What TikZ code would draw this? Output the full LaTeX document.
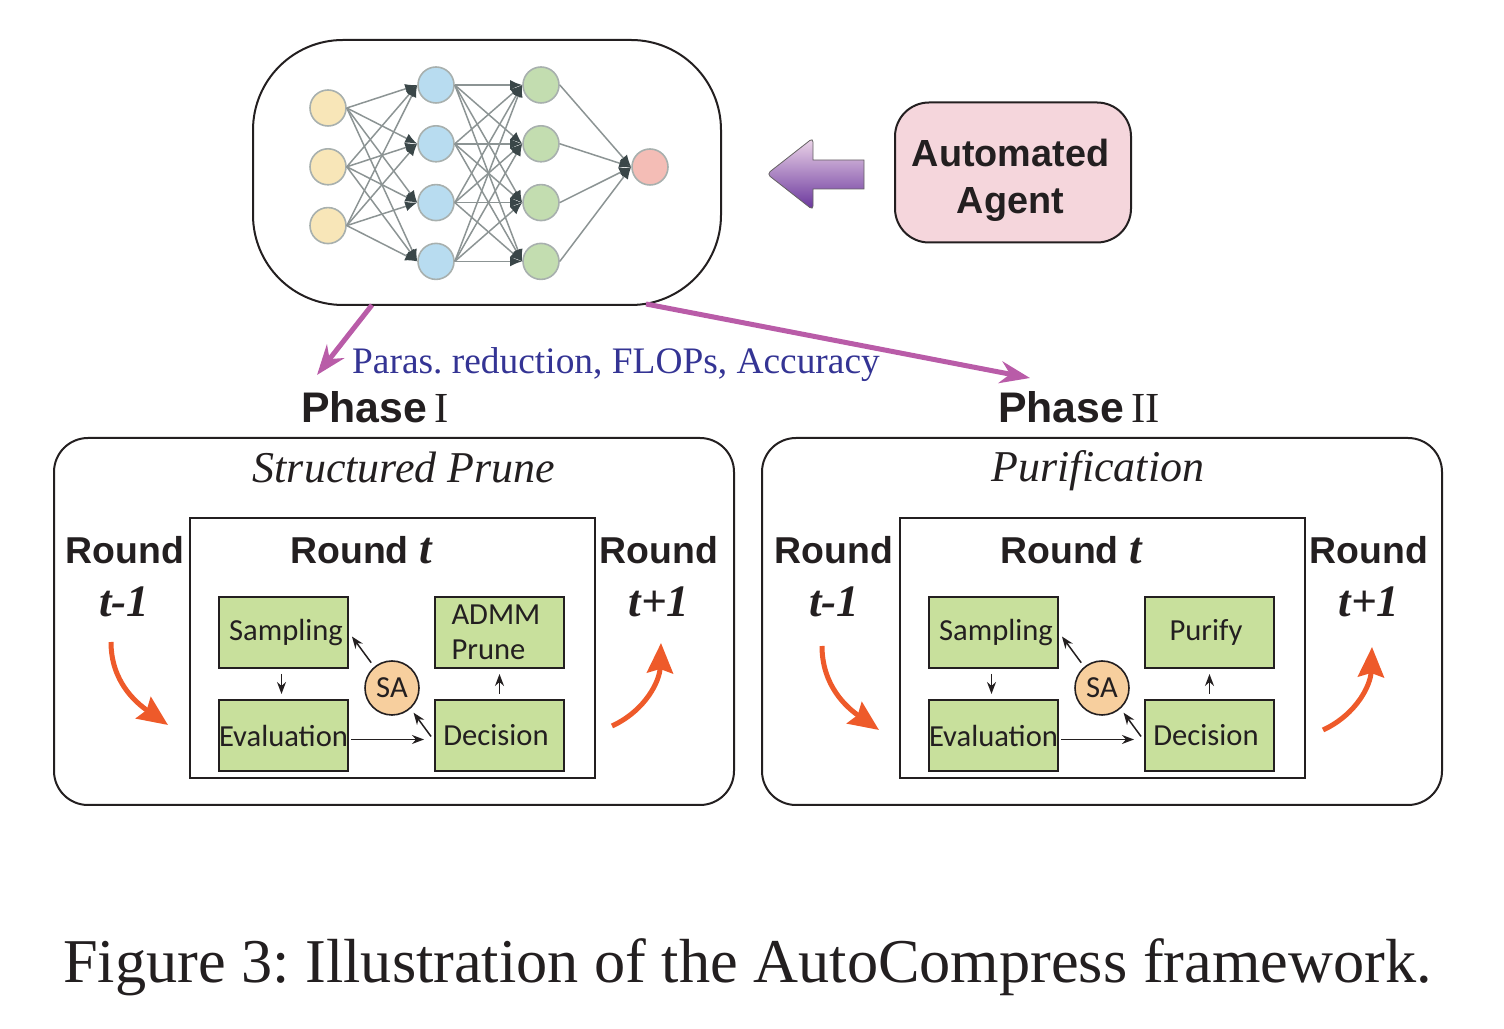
\documentclass[tikz,border=0pt]{standalone}
\usepackage{fontspec}
\setmainfont{Liberation Serif}
\newfontfamily\boldsans{Liberation Sans}[BoldFont={Liberation Sans Bold}]
\newfontfamily\blocksans{Carlito}
\usetikzlibrary{positioning, arrows.meta, calc}
\definecolor{inkblack}{HTML}{231F20}
\definecolor{purpleline}{HTML}{B95CA8}
\definecolor{orangeline}{HTML}{EE5A2A}
\definecolor{parablue}{HTML}{343494}
\definecolor{blockgreen}{HTML}{C8E09C}
\definecolor{saorange}{HTML}{F7CF9E}
\definecolor{agentpink}{HTML}{F5D6DC}
\definecolor{tipdark}{HTML}{3A4648}
\definecolor{edgegrey}{HTML}{8C9494}
\definecolor{ringgrey}{HTML}{A8B0AE}
\definecolor{inyellow}{HTML}{F8E6B8}
\definecolor{hidblue}{HTML}{B8DCF0}
\definecolor{outgreen}{HTML}{C3DDB0}
\definecolor{resred}{HTML}{F4BDB6}
\tikzset{
  neuron/.style={circle, draw=ringgrey, line width=.8pt, minimum size=18pt, inner sep=0pt},
  synapse/.style={draw=edgegrey, line width=.75pt, -{Latex[color=tipdark,length=6pt,width=5pt]}},
  panel/.style={draw=inkblack, line width=1pt, rounded corners=17pt, minimum width=340pt, minimum height=183.5pt},
  roundbox/.style={draw=inkblack, line width=1pt, minimum width=202.5pt, minimum height=130pt},
  block/.style={draw=inkblack, fill=blockgreen, line width=1pt, minimum width=64.5pt, minimum height=35.5pt, inner sep=0pt, text=inkblack, font=\blocksans\fontsize{15.3}{17.5}\selectfont},
  sacircle/.style={circle, draw=inkblack, fill=saorange, line width=.8pt, minimum size=27pt, inner sep=0pt, text=inkblack, font=\blocksans\fontsize{15.3}{17.5}\selectfont},
  blocklink/.style={-{Stealth[length=6pt,width=4.5pt]}, color=inkblack, line width=.75pt, shorten >=2.5pt, shorten <=2.5pt},
  purplelink/.style={-{Stealth[length=15pt,width=11pt]}, draw=purpleline, line width=2.5pt},
  orangelink/.style={-{Stealth[length=15pt,width=13pt,inset=2pt]}, color=orangeline, line width=2.5pt},
  roundlabel/.style={text=inkblack, inner sep=0pt, font=\boldsans\bfseries\fontsize{18.7}{22}\selectfont},
  indexlabel/.style={text=inkblack, inner sep=0pt, font=\bfseries\itshape\fontsize{22.5}{26}\selectfont},
  phaselabel/.style={text=inkblack, inner sep=0pt, font=\fontsize{21.4}{25}\selectfont},
  titlelabel/.style={text=inkblack, inner sep=0pt, font=\itshape\fontsize{22}{26}\selectfont},
}
\begin{document}
\frenchspacing
\begin{tikzpicture}
	[x=.5pt, y=.5pt, on grid, node distance=29.4pt]
   \useasboundingbox (0,0) rectangle (1504,1028);

   % network
   \node[panel, minimum width=234pt, minimum height=132.5pt, rounded corners=45pt] (net) at (487,855.5) {};
   \node[neuron, fill=inyellow] (in_1) at (328,920) {};
   \node[neuron, fill=inyellow] (in_2) [below=of in_1] {};
   \node[neuron, fill=inyellow] (in_3) [below=of in_2] {};
   \node[neuron, fill=hidblue] (hid_1) at (436,943) {};
   \node[neuron, fill=hidblue] (hid_2) [below=of hid_1] {};
   \node[neuron, fill=hidblue] (hid_3) [below=of hid_2] {};
   \node[neuron, fill=hidblue] (hid_4) [below=of hid_3] {};
   \node[neuron, fill=outgreen] (out_1) [right=52.5pt of hid_1] {};
   \node[neuron, fill=outgreen] (out_2) [right=52.5pt of hid_2] {};
   \node[neuron, fill=outgreen] (out_3) [right=52.5pt of hid_3] {};
   \node[neuron, fill=outgreen] (out_4) [right=52.5pt of hid_4] {};
   \node[neuron, fill=resred] (res) at (650,861) {};

   \foreach \i in {1,2,3}
     \foreach \j in {1,2,3,4}
       \draw[synapse] (in_\i.east) -- (hid_\j.west);
   \foreach \i in {1,2,3,4}
     \foreach \j in {1,2,3,4}
       \draw[synapse] (hid_\i.east) -- (out_\j.west);
   \foreach \i in {1,2,3,4}
     \draw[synapse] (out_\i.east) -- (res.west);

   % agent
   \node[draw=inkblack, fill=agentpink, line width=1pt, rounded corners=17pt, minimum width=118pt, minimum height=70pt] (agent) [right=263pt of net] {};
   \node[align=center, text=inkblack, inner sep=0pt, font=\boldsans\bfseries\fontsize{18.9}{23.5}\selectfont] (agent_text) at ([xshift=-1.25pt,yshift=-4pt]agent.center) {Automated\\Agent};
   \shade[top color=purpleline!25!white, bottom color=purpleline!70!blue!80!black, draw=inkblack!70, line width=.4pt]
     (864,868) -- (813,868) [rounded corners=2pt] -- (813,890) -- (767,854) -- (813,818) [sharp corners] -- (813,839) -- (864,839) -- cycle;

   % phases
   \node[phaselabel] (phase_1) at (375,621) {{\boldsans\bfseries Phase}\,I};
   \node[phaselabel] (phase_2) at (1079,621) {{\boldsans\bfseries Phase}\,II};
   \node[text=parablue, inner sep=0pt, font=\fontsize{18.7}{22}\selectfont] (paras) at (616,663) {Paras. reduction, FLOPs, Accuracy};
   \coordinate (net_a) at (372,723);
   \coordinate (net_b) at (646,724);
   \coordinate (phase_a) at (317,653);
   \coordinate (phase_b) at (1030,650);
   \draw[purplelink] (net_a) -- (phase_a);
   \draw[purplelink] (net_b) -- (phase_b);

   % left panel
   \node[panel] (prune) at (394,406.5) {};
   \node[titlelabel] (title_1) at (404,561) {Structured Prune};
   \node[roundbox] (inner_1) at (392.5,380) {};
   \node[roundlabel] (prev_1) at (125,478) {Round};
   \node[indexlabel] (pidx_1) at (124,426) {t-1};
   \node[roundlabel] (curr_1) at (361,478) {Round {\normalfont\rmfamily\bfseries\itshape\fontsize{22.5}{26}\selectfont t}};
   \node[roundlabel] (next_1) at (659,478) {Round};
   \node[indexlabel] (nidx_1) at (659,426) {t+1};
   \node[block] (samp_1) at (283.5,395.5) {\hspace*{2.5pt}Sampling};
   \node[block] (eval_1) [below=51.5pt of samp_1] {Evaluation};
   \node[block, align=left, text width=48pt, inner xsep=8.25pt] (admm_1) [right=108pt of samp_1] {ADMM\\Prune};
   \node[block] (dec_1) [below=51.5pt of admm_1] {Decision\hspace*{3.5pt}};
   \node[sacircle] (sa_1) at (392,340) {SA};
   \coordinate (o_a1) at (111,386);
   \coordinate (o_b1) at (168,303);
   \coordinate (o_c1) at (612,302);
   \coordinate (o_d1) at (661,385);

   \path[blocklink]
   ([xshift=-1pt]samp_1.south) edge ([xshift=-1pt]eval_1.north)
   (dec_1) edge (admm_1)
   ([yshift=-2pt]eval_1.east) edge [shorten <=1pt, shorten >=5pt] ([yshift=-2pt]dec_1.west)
   (sa_1.130) edge (samp_1.east)
   ([yshift=-2.5pt]dec_1.west) edge (sa_1.-48);
   \path[orangelink]
   (o_a1) edge [out=-90, in=145] (o_b1)
   (o_c1) edge [out=25, in=-92] (o_d1);

   % right panel
   \node[panel] (purify) at (1102,406.5) {};
   \node[titlelabel] (title_2) at (1098,557) {Purification};
   \node[roundbox] (inner_2) at (1102.5,380) {};
   \node[roundlabel] (prev_2) at (834,478) {Round};
   \node[indexlabel] (pidx_2) at (834,426) {t-1};
   \node[roundlabel] (curr_2) at (1071,478) {Round {\normalfont\rmfamily\bfseries\itshape\fontsize{22.5}{26}\selectfont t}};
   \node[roundlabel] (next_2) at (1369,478) {Round};
   \node[indexlabel] (nidx_2) at (1369,426) {t+1};
   \node[block] (samp_2) at (993.5,395.5) {\hspace*{2.5pt}Sampling};
   \node[block] (eval_2) [below=51.5pt of samp_2] {Evaluation};
   \node[block] (pur_2) [right=108pt of samp_2] {Purify\hspace*{3.5pt}};
   \node[block] (dec_2) [below=51.5pt of pur_2] {Decision\hspace*{3.5pt}};
   \node[sacircle] (sa_2) at (1102,340) {SA};
   \coordinate (o_a2) at (822,382);
   \coordinate (o_b2) at (879,298);
   \coordinate (o_c2) at (1323,298);
   \coordinate (o_d2) at (1372,381);

   \path[blocklink]
   ([xshift=-1pt]samp_2.south) edge ([xshift=-1pt]eval_2.north)
   (dec_2) edge (pur_2)
   ([yshift=-2pt]eval_2.east) edge [shorten <=1pt, shorten >=5pt] ([yshift=-2pt]dec_2.west)
   (sa_2.130) edge (samp_2.east)
   ([yshift=-2.5pt]dec_2.west) edge (sa_2.-48);
   \path[orangelink]
   (o_a2) edge [out=-90, in=145] (o_b2)
   (o_c2) edge [out=25, in=-92] (o_d2);

   \node[text=inkblack, inner sep=0pt, font=\fontsize{31.15}{36}\selectfont] (caption) at (747.5,61) {Figure 3: Illustration of the AutoCompress framework.};
\end{tikzpicture}
\end{document}
